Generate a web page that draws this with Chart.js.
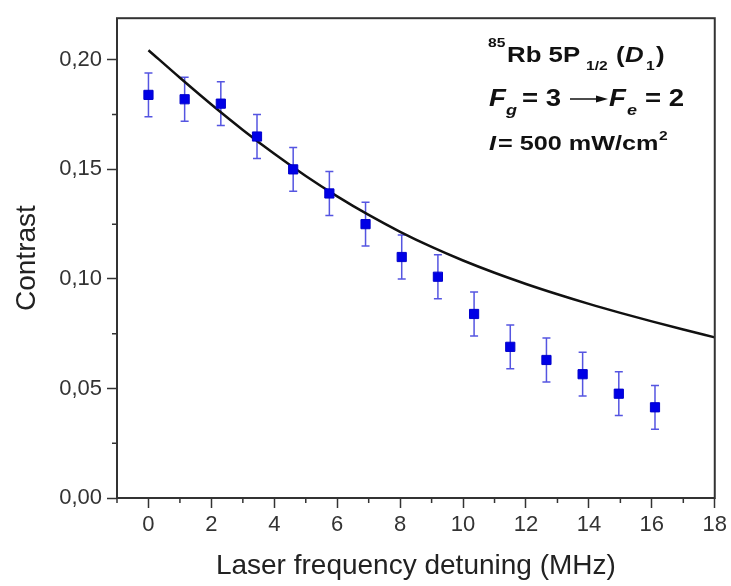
<!DOCTYPE html>
<html>
<head>
<meta charset="utf-8">
<script src="https://cdn.jsdelivr.net/npm/chart.js@4.4.1/dist/chart.umd.min.js"></script>
<style>
  body { margin: 0; background: #fff; }
  #grafico { display: block; }
</style>
</head>
<body>
<canvas id="grafico" width="731" height="586"></canvas>
<script>
// dati
var detuning = [0, 1.15, 2.3, 3.45, 4.6, 5.75, 6.9, 8.05, 9.2, 10.35, 11.5, 12.65, 13.8, 14.95, 16.1];
var contrast = [0.184, 0.182, 0.180, 0.165, 0.150, 0.139, 0.125, 0.110, 0.101, 0.084, 0.069, 0.063, 0.0565, 0.0476, 0.0414];
var contrastErr = [0.01, 0.01, 0.01, 0.01, 0.01, 0.01, 0.01, 0.01, 0.01, 0.01, 0.01, 0.01, 0.01, 0.01, 0.01];

// curva teorica
var fitX = [0, 1, 2, 3, 4, 5, 6, 7, 8, 9, 10, 11, 12, 13, 14, 15, 16, 17, 18];
var fitY = [0.2044, 0.1918, 0.1796, 0.1680, 0.1571, 0.1470, 0.1377, 0.1292, 0.1215, 0.1146, 0.1084, 0.1028, 0.0977, 0.0930, 0.0886, 0.0845, 0.0806, 0.0769, 0.0733];

var xTicksMajor = [0, 2, 4, 6, 8, 10, 12, 14, 16, 18];
var yTicksMajor = [0, 0.05, 0.10, 0.15, 0.20];

var axisColor = '#333';
var fontName = '"Liberation Sans", Arial, sans-serif';

function isMajorX(v) {
  return xTicksMajor.indexOf(v) >= 0;
}
function isMajorY(v) {
  for (var i = 0; i < yTicksMajor.length; i++) {
    if (Math.abs(yTicksMajor[i] - v) < 1e-6) return true;
  }
  return false;
}

var puntiData = detuning.map(function (x, i) { return { x: x, y: contrast[i] }; });
var curvaData = fitX.map(function (x, i) { return { x: x, y: fitY[i] }; });

// barre d'errore, tacche minori, cornice e testo
var extraPlugin = {
  id: 'extra',
  beforeDatasetsDraw: function (chart) {
    var ctx = chart.ctx;
    var xs = chart.scales.x, ys = chart.scales.y;
    ctx.save();
    ctx.strokeStyle = 'rgba(55,55,220,0.85)';
    ctx.lineWidth = 1.5;
    for (var i = 0; i < detuning.length; i++) {
      var px = xs.getPixelForValue(detuning[i]);
      var top = ys.getPixelForValue(contrast[i] + contrastErr[i]);
      var bot = ys.getPixelForValue(contrast[i] - contrastErr[i]);
      ctx.beginPath();
      ctx.moveTo(px, top); ctx.lineTo(px, bot);
      ctx.moveTo(px - 4, top); ctx.lineTo(px + 4, top);
      ctx.moveTo(px - 4, bot); ctx.lineTo(px + 4, bot);
      ctx.stroke();
    }
    ctx.restore();
  },
  afterDraw: function (chart) {
    var ctx = chart.ctx;
    var a = chart.chartArea;
    var xs = chart.scales.x, ys = chart.scales.y;
    ctx.save();
    // tacche minori
    ctx.strokeStyle = axisColor;
    ctx.lineWidth = 1.5;
    ctx.beginPath();
    xs.ticks.forEach(function (t) {
      if (!isMajorX(t.value)) {
        var px = xs.getPixelForValue(t.value);
        ctx.moveTo(px, a.bottom); ctx.lineTo(px, a.bottom + 5);
      }
    });
    ys.ticks.forEach(function (t) {
      if (!isMajorY(t.value)) {
        var py = ys.getPixelForValue(t.value);
        ctx.moveTo(a.left, py); ctx.lineTo(a.left - 5, py);
      }
    });
    ctx.stroke();
    // cornice
    ctx.lineWidth = 2;
    ctx.strokeRect(a.left, a.top, a.right - a.left, a.bottom - a.top);

    // testo
    ctx.fillStyle = '#111';
    ctx.textBaseline = 'alphabetic';
    function txt(t, x, y, size, italic) {
      ctx.save();
      ctx.font = (italic ? 'italic ' : '') + 'bold ' + size + 'px ' + fontName;
      ctx.translate(x, y);
      ctx.scale(1.2, 1);
      ctx.fillText(t, 0, 0);
      ctx.restore();
    }
    txt('85', 488, 47, 13);
    txt('Rb 5P', 507, 62, 21.5);
    txt('1/2', 586, 70, 13);
    txt('(', 616, 62, 21.5);
    txt('D', 625, 62, 21.5, true);
    txt('1', 646, 70, 13);
    txt(')', 656, 62, 21.5);

    txt('F', 489, 106, 23, true);
    txt('g', 506, 115, 15, true);
    txt('= 3', 522, 106, 23);
    ctx.beginPath();
    ctx.lineWidth = 1.5;
    ctx.strokeStyle = '#111';
    ctx.moveTo(570, 99); ctx.lineTo(598, 99);
    ctx.stroke();
    ctx.beginPath();
    ctx.moveTo(596, 95.5); ctx.lineTo(608, 99); ctx.lineTo(596, 102.5);
    ctx.closePath();
    ctx.fill();
    txt('F', 609, 106, 23, true);
    txt('e', 627, 115, 15, true);
    txt('= 2', 645, 106, 23);

    txt('I', 489, 150, 21, true);
    txt('= 500 mW/cm', 498, 150, 21);
    txt('2', 659, 140, 13);
    ctx.restore();
  }
};

var config = {
  type: 'scatter',
  data: {
    datasets: [{
      label: 'Misure',
      data: puntiData,
      pointStyle: 'rect',
      pointRadius: 6.5,
      pointHoverRadius: 6.5,
      backgroundColor: '#0000e6',
      borderColor: '#0000cc',
      borderWidth: 1
    }, {
      label: 'Teoria',
      data: curvaData,
      showLine: true,
      cubicInterpolationMode: 'monotone',
      borderColor: '#111',
      borderWidth: 2.5,
      pointRadius: 0,
      pointHoverRadius: 0,
      fill: false
    }]
  },
  options: {
    responsive: false,
    animation: false,
    layout: {
      padding: { top: 8, right: 14, bottom: 0, left: 0 }
    },
    plugins: {
      legend: { display: false },
      tooltip: { enabled: false }
    },
    scales: {
      x: {
        type: 'linear',
        min: -1,
        max: 18,
        afterFit: function (scale) { scale.height = 88; },
        border: { display: false },
        grid: {
          drawOnChartArea: false,
          drawTicks: true,
          tickLength: 10,
          tickWidth: 1.5,
          tickColor: function (c) {
            return isMajorX(c.tick.value) ? axisColor : 'rgba(0,0,0,0)';
          }
        },
        ticks: {
          stepSize: 1,
          autoSkip: false,
          includeBounds: false,
          maxRotation: 0,
          padding: 4,
          color: '#333',
          font: { family: fontName, size: 22 },
          callback: function (v) { return isMajorX(v) ? String(v) : ''; }
        },
        title: {
          display: true,
          text: 'Laser frequency detuning (MHz)',
          color: '#222',
          font: { family: fontName, size: 28 },
          padding: { top: 3, bottom: 3 }
        }
      },
      y: {
        type: 'linear',
        min: 0,
        max: 0.219,
        afterFit: function (scale) { scale.width = 117; },
        border: { display: false },
        grid: {
          drawOnChartArea: false,
          drawTicks: true,
          tickLength: 10,
          tickWidth: 1.5,
          tickColor: function (c) {
            return isMajorY(c.tick.value) ? axisColor : 'rgba(0,0,0,0)';
          }
        },
        ticks: {
          stepSize: 0.025,
          autoSkip: false,
          includeBounds: false,
          padding: 5,
          color: '#333',
          font: { family: fontName, size: 22 },
          callback: function (v) {
            return isMajorY(v) ? v.toFixed(2).replace('.', ',') : '';
          }
        },
        title: {
          display: true,
          text: 'Contrast',
          color: '#222',
          font: { family: fontName, size: 28 },
          padding: { top: 10, bottom: 3 }
        }
      }
    }
  },
  plugins: [extraPlugin]
};

var grafico = new Chart(document.getElementById('grafico'), config);
</script>
</body>
</html>
